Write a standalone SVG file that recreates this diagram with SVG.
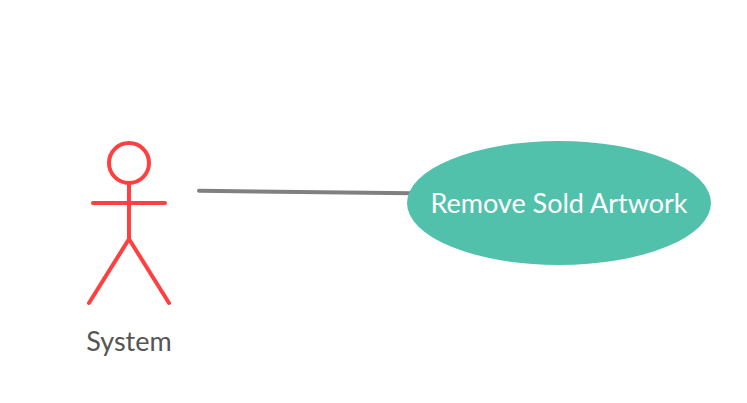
<svg xmlns="http://www.w3.org/2000/svg" width="747" height="403" viewBox="0 0 747 403">
<style>
.a{fill:none;stroke:#ff4040;stroke-width:4;stroke-linecap:round;stroke-linejoin:round}
.c{fill:none;stroke:#808080;stroke-width:4;stroke-linecap:round}
text{font-family:Lato,"Liberation Sans",sans-serif;font-size:27px;text-anchor:middle}
</style>
<rect width="747" height="403" fill="#fff"/>
<g id="connectors"><path class="c" d="M199 190.800L412 193.200"/></g>
<g id="actor-system">
<circle class="a" cx="129" cy="163" r="20"/>
<path class="a" d="M129 183V239M93 203H165M129 239L89 303M129 239L169 303"/>
<text x="129" y="351" fill="#555">System</text>
</g>
<g id="usecase-remove-sold-artwork">
<ellipse cx="559" cy="203" rx="152" ry="62" fill="#52c1ab"/>
<text x="559" y="213" fill="#fff">Remove Sold Artwork</text>
</g>
</svg>
